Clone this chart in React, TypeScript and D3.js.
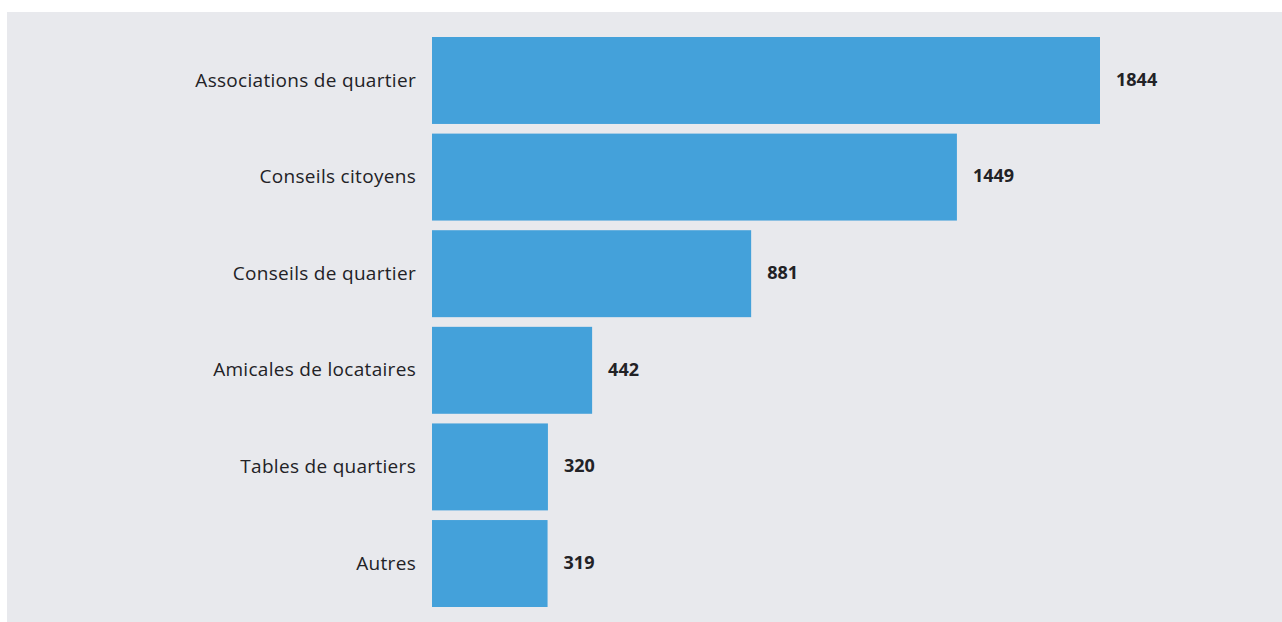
import * as React from 'react';
import * as d3 from 'd3';

const categories = [
  'Associations de quartier',
  'Conseils citoyens',
  'Conseils de quartier',
  'Amicales de locataires',
  'Tables de quartiers',
  'Autres',
];
const values = [1844, 1449, 881, 442, 320, 319];

const WIDTH = 1282;
const HEIGHT = 622;
const BAR_COLOR = '#44a1da';
const BG = '#e8e9ed';
const TEXT = '#222226';

export default function App() {
  const x = d3.scaleLinear().domain([0, d3.max(values) as number]).range([432, 1100]);
  const y = d3
    .scaleBand<string>()
    .domain(categories)
    .range([37, 607])
    .paddingInner(0.1)
    .paddingOuter(0);

  return (
    <svg
      width={WIDTH}
      height={HEIGHT}
      style={{ position: 'absolute', left: 0, top: 0, display: 'block' }}
    >
      <rect x={0} y={0} width={WIDTH} height={HEIGHT} fill="#fff" />
      <rect x={7} y={12} width={WIDTH - 7} height={HEIGHT - 12} fill={BG} />
      {categories.map((c, i) => {
        const y0 = y(c) as number;
        const cy = y0 + y.bandwidth() / 2;
        return (
          <g key={c}>
            <rect
              x={x(0)}
              y={y0}
              width={x(values[i]) - x(0)}
              height={y.bandwidth()}
              fill={BAR_COLOR}
            />
            <text
              x={x(0) - 16}
              y={cy - 0.5}
              dy="0.35em"
              textAnchor="end"
              fontFamily="'Open Sans', sans-serif"
              fontSize={19}
              letterSpacing={0.3}
              fill={TEXT}
            >
              {c}
            </text>
            <text
              x={x(values[i]) + 16}
              y={cy - 1}
              dy="0.35em"
              fontFamily="'Open Sans', sans-serif"
              fontWeight={700}
              fontSize={18}
              fill={TEXT}
            >
              {values[i]}
            </text>
          </g>
        );
      })}
    </svg>
  );
}
